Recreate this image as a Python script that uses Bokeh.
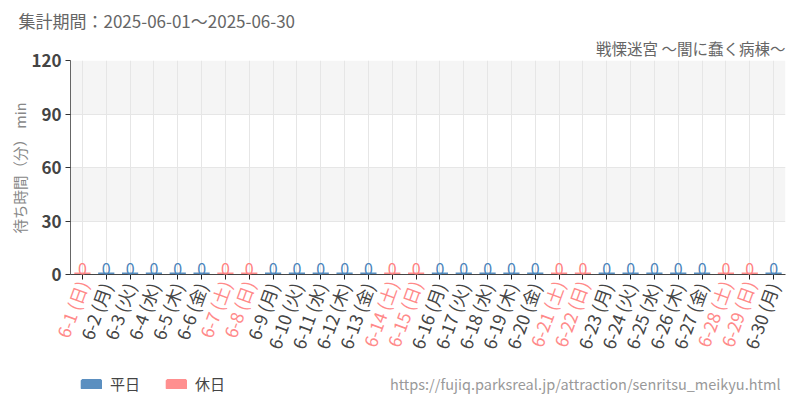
import math
from bokeh.plotting import figure
from bokeh.layouts import column
from bokeh.models import (FactorRange, Range1d, FixedTicker, ColumnDataSource, LabelSet,
                          Label, Legend, LegendItem, Title, CategoricalAxis)
from bokeh.core.properties import value
from bokeh.embed import file_html
from bokeh.resources import INLINE

# ---- data ----
days = ["6-1", "6-2", "6-3", "6-4", "6-5", "6-6", "6-7", "6-8", "6-9", "6-10",
        "6-11", "6-12", "6-13", "6-14", "6-15", "6-16", "6-17", "6-18", "6-19", "6-20",
        "6-21", "6-22", "6-23", "6-24", "6-25", "6-26", "6-27", "6-28", "6-29", "6-30"]
weekdays = ["日", "月", "火", "水", "木", "金", "土", "日", "月", "火",
            "水", "木", "金", "土", "日", "月", "火", "水", "木", "金",
            "土", "日", "月", "火", "水", "木", "金", "土", "日", "月"]
is_holiday = [1, 0, 0, 0, 0, 0, 1, 1, 0, 0,
              0, 0, 0, 1, 1, 0, 0, 0, 0, 0,
              1, 1, 0, 0, 0, 0, 0, 1, 1, 0]
wait_min = [0] * 30
y_ticks = [0, 30, 60, 90, 120]
title_text = "集計期間：2025-06-01～2025-06-30"
subtitle_text = "戦慄迷宮 ～闇に蠢く病棟～"
ylabel_text = "待ち時間（分） min"
url_text = "https://fujiq.parksreal.jp/attraction/senritsu_meikyu.html"
legend_labels = ["平日", "休日"]

FONT = "Noto Sans CJK JP"
BAR_W, BAR_H = "#5b8fc0", "#ff8f8f"
TXT_W, TXT_H = "#4a84bb", "#ff8080"
XL_W, XL_H = "#444444", "#ff8a8a"

W, H = 800, 400
H1 = 371
H2 = H - H1
FL, FR, FT, FB = 70, 785, 60, 274   # main frame box in page px
XS = (FR - FL) / len(days)           # px per category

labels = [f"{d} ({w})" for d, w in zip(days, weekdays)]
# factor lists for the two label axes: the other group's slots are zero-width (unique) strings
ZW = "\u200b"
wk_factors = [(ZW * (i + 1)) if h else l for i, (l, h) in enumerate(zip(labels, is_holiday))]
hol_factors = [l if h else (ZW * (i + 1)) for i, (l, h) in enumerate(zip(labels, is_holiday))]

src = ColumnDataSource(dict(
    x=days, top=wait_min,
    bar=[BAR_H if h else BAR_W for h in is_holiday],
    tc=[TXT_H if h else TXT_W for h in is_holiday],
    vtxt=[str(v) for v in wait_min],
))
xr = FactorRange(factors=days, range_padding=0)

# ---------------- main chart ----------------
p = figure(width=W, height=H1, output_backend="svg", toolbar_location=None,
           x_range=xr, y_range=Range1d(0, 120),
           min_border_left=FL, min_border_right=W - FR,
           min_border_top=FT, min_border_bottom=H1 - FB)
p.title = None
p.outline_line_color = None
p.extra_x_ranges = {"wk": FactorRange(factors=wk_factors, range_padding=0),
                    "hol": FactorRange(factors=hol_factors, range_padding=0)}

r = p.vbar(x="x", top="top", bottom=0, width=0.68, source=src,
           fill_color="bar", line_color="bar", line_width=4)

p.yaxis.ticker = FixedTicker(ticks=y_ticks)
p.yaxis.major_label_text_font = FONT
p.yaxis.major_label_text_font_size = "17px"
p.yaxis.major_label_text_font_style = "bold"
p.yaxis.major_label_text_color = "#444444"
p.yaxis.axis_line_color = "#666666"
p.yaxis.major_tick_line_color = "#333333"
p.yaxis.major_tick_out = 5
p.yaxis.major_tick_in = 0
p.yaxis.minor_tick_line_color = None
p.yaxis.major_label_standoff = 4

p.add_layout(Title(text=ylabel_text, align="left", offset=41, text_font=FONT,
                   text_font_size="14.5px", text_color="#888888",
                   text_font_style="normal", standoff=-2), "left")

ANG = math.radians(70)
# x axis A: weekday labels (dark)
xa = p.xaxis[0]
xa.x_range_name = "wk"
xa.major_label_orientation = ANG
xa.major_label_text_font = FONT
xa.major_label_text_font_size = "17.5px"
xa.major_label_text_color = XL_W
xa.major_label_standoff = 4
xa.axis_line_color = "#444444"
xa.major_tick_line_color = "#222222"
xa.major_tick_out = 5
xa.major_tick_in = 0

# x axis B: holiday labels (pink); stacked under A, pulled back up by a negative standoff
xb = CategoricalAxis(x_range_name="hol",
                     major_label_orientation=ANG, major_label_text_font=FONT,
                     major_label_text_font_size="17.5px", major_label_text_color=XL_H,
                     major_label_standoff=-83, axis_line_color=None,
                     major_tick_line_color=None, minor_tick_line_color=None,
                     major_tick_out=5, major_tick_in=0)
p.add_layout(xb, "below")

p.xgrid.grid_line_color = "#e6e6e6"
p.ygrid.grid_line_color = "#e6e6e6"
p.ygrid.band_fill_color = "#f5f5f5"
p.ygrid.band_fill_alpha = 1
p.ygrid.level = "image"

p.add_layout(LabelSet(x="x", y="top", text="vtxt", source=src, text_color="tc",
                      text_align="center", text_baseline="bottom",
                      text_font=value(FONT), text_font_size="16px"))

p.add_layout(Title(text=subtitle_text, align="right", text_font=FONT,
                   text_font_size="15.5px", text_color="#666666",
                   text_font_style="normal", standoff=4), "above")
p.add_layout(Title(text=title_text, align="left", offset=18 - FL, text_font=FONT,
                   text_font_size="17px", text_color="#666666",
                   text_font_style="normal", standoff=-1), "above")

# ---------------- bottom strip: legend and source ----------------
q = figure(width=W, height=H2, output_backend="svg", toolbar_location=None,
           x_range=xr, y_range=Range1d(0, H2),
           x_axis_location=None, y_axis_location=None,
           min_border_left=FL, min_border_right=W - FR, min_border_top=0, min_border_bottom=0)
q.title = None
q.outline_line_color = None
q.grid.visible = False

r2 = q.vbar(x="x", top="top", bottom=0, width=0.68, source=src, visible=False,
            fill_color="bar", line_color="bar", line_width=4)
legend = Legend(items=[LegendItem(label=legend_labels[0], renderers=[r2], index=1),
                       LegendItem(label=legend_labels[1], renderers=[r2], index=0)],
                orientation="horizontal", location=(10, 6),
                glyph_width=22, glyph_height=10, label_text_font=FONT,
                label_text_font_size="15px", label_text_color="#444444",
                border_line_color=None, background_fill_alpha=0,
                inactive_fill_alpha=0,
                spacing=25, label_standoff=8, padding=2, margin=0)
q.add_layout(legend)

q.add_layout(Label(x=(780 - FL) / XS, y=H - 383, text=url_text,
                   text_font=FONT, text_font_size="14.5px", text_color="#999999",
                   text_align="right", text_baseline="middle"))

open("out.html", "w").write(file_html(column(p, q, spacing=0), INLINE))
